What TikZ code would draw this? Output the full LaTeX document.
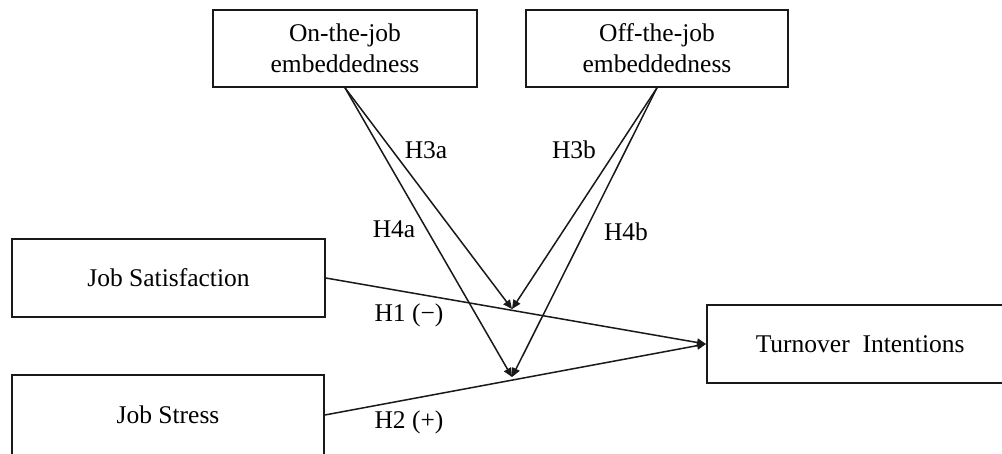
\documentclass[tikz,border=0pt]{standalone}
\usepackage{fontspec}
\setmainfont{Liberation Serif}
\usetikzlibrary{arrows.meta}
\begin{document}
\begin{tikzpicture}[x=1pt,y=-1pt,
  box/.style={draw=black!90,line width=1.6pt,inner sep=0pt,align=center,
    font=\fontsize{25.5}{31}\selectfont},
  lbl/.style={inner sep=0pt,font=\fontsize{25.5}{31}\selectfont},
  conn/.style={draw=black!90,line width=1.5pt,-{Triangle[length=9pt,width=8pt]}}]
\clip (0,0) rectangle (1002,453);
\fill[white] (0,0) rectangle (1002,453);
\node[box,minimum width=264pt,minimum height=77pt] (on) at (345,48.5) {On-the-job\\embeddedness};
\node[box,minimum width=262pt,minimum height=77pt] (off) at (657,48.5) {Off-the-job\\embeddedness};
\node[box,minimum width=313pt,minimum height=78pt] (js) at (168.5,278) {Job Satisfaction};
\node[box,minimum width=312pt,minimum height=80pt] (jst) at (168,415) {Job Stress};
\node[box,anchor=west,minimum height=78pt] (ti) at (706,344) {\hspace*{49pt}Turnover\ \ Intentions\hspace*{100pt}};
\coordinate (j1) at (512,309);
\coordinate (j2) at (512,377);
\draw[conn] (js.east) -- (ti.west);
\draw[conn] (jst.east) -- (ti.west);
\draw[conn] (on.south) -- (j1);
\draw[conn] (on.south) -- (j2);
\draw[conn] (off.south) -- (j1);
\draw[conn] (off.south) -- (j2);
\node[lbl] (h3a) at (426,150) {H3a};
\node[lbl] (h3b) at (574,150) {H3b};
\node[lbl] (h4a) at (394,229) {H4a};
\node[lbl] (h4b) at (626,232) {H4b};
\node[lbl] (h1) at (409,315) {H1 (−)};
\node[lbl] (h2) at (409,422) {H2 (+)};
\end{tikzpicture}
\end{document}
